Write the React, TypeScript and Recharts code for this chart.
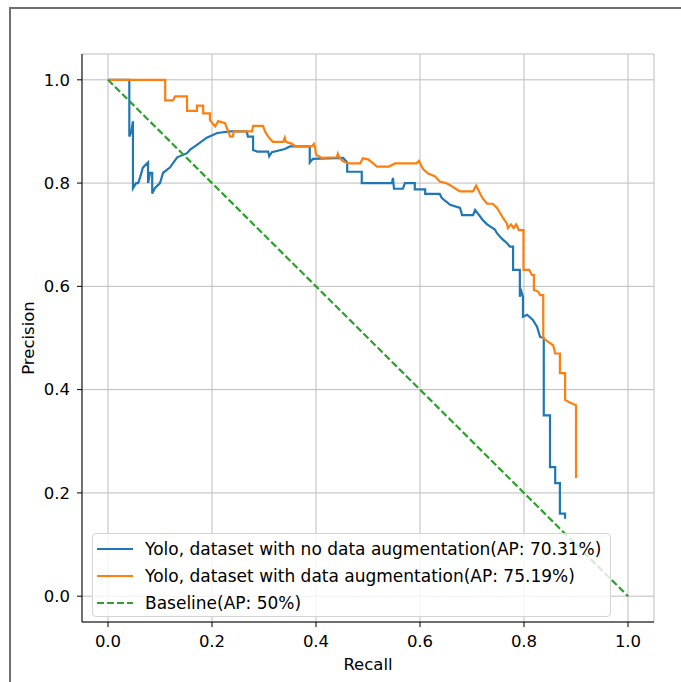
import React from 'react';
import { LineChart, Line, XAxis, YAxis, CartesianGrid, Legend } from 'recharts';

const xTicks = [0, 0.2, 0.4, 0.6, 0.8, 1.0];
const yTicks = [0, 0.2, 0.4, 0.6, 0.8, 1.0];

// Yolo without augmentation
const noAugRecall = [
  0, 0.041, 0.041, 0.045, 0.048, 0.048, 0.054, 0.058, 0.062, 0.067, 0.077, 0.077, 0.081, 0.085, 0.085,
  0.09, 0.1, 0.106, 0.119, 0.133, 0.152, 0.158, 0.171, 0.19, 0.21, 0.235, 0.267, 0.269, 0.279, 0.279,
  0.287, 0.308, 0.31, 0.315, 0.34, 0.35, 0.388, 0.388, 0.394, 0.452, 0.46, 0.46, 0.488, 0.488, 0.51,
  0.546, 0.548, 0.55, 0.567, 0.571, 0.59, 0.59, 0.61, 0.61, 0.638, 0.642, 0.658, 0.677, 0.681, 0.702,
  0.706, 0.721, 0.729, 0.744, 0.748, 0.754, 0.76, 0.767, 0.773, 0.779, 0.779, 0.792, 0.792, 0.795,
  0.798, 0.798, 0.806, 0.817, 0.825, 0.831, 0.838, 0.838, 0.85, 0.85, 0.86, 0.86, 0.869, 0.869, 0.879,
  0.879,
];
const noAugPrecision = [
  1.0, 1.0, 0.89, 0.9, 0.92, 0.79, 0.8, 0.8, 0.812, 0.83, 0.84, 0.8, 0.82, 0.82, 0.78,
  0.79, 0.8, 0.82, 0.83, 0.85, 0.858, 0.865, 0.874, 0.888, 0.897, 0.9, 0.9, 0.89, 0.89, 0.864,
  0.861, 0.861, 0.852, 0.86, 0.866, 0.871, 0.871, 0.84, 0.847, 0.849, 0.84, 0.822, 0.822, 0.8, 0.8,
  0.8, 0.81, 0.789, 0.789, 0.8, 0.8, 0.788, 0.788, 0.779, 0.779, 0.771, 0.758, 0.752, 0.738, 0.738,
  0.748, 0.728, 0.72, 0.71, 0.703, 0.696, 0.69, 0.684, 0.677, 0.677, 0.632, 0.632, 0.58, 0.59,
  0.58, 0.541, 0.545, 0.535, 0.522, 0.502, 0.5, 0.35, 0.35, 0.25, 0.25, 0.219, 0.219, 0.16, 0.16,
  0.15,
];

// Yolo with augmentation
const augRecall = [
  0, 0.11, 0.11, 0.125, 0.129, 0.152, 0.152, 0.171, 0.171, 0.183, 0.183, 0.196, 0.196, 0.206, 0.212,
  0.225, 0.235, 0.24, 0.242, 0.277, 0.279, 0.298, 0.302, 0.308, 0.317, 0.337, 0.34, 0.342, 0.354, 0.36,
  0.392, 0.396, 0.398, 0.4, 0.41, 0.44, 0.442, 0.445, 0.452, 0.458, 0.465, 0.485, 0.49, 0.5, 0.51,
  0.517, 0.54, 0.552, 0.593, 0.598, 0.606, 0.615, 0.629, 0.638, 0.65, 0.658, 0.667, 0.677, 0.702,
  0.708, 0.717, 0.721, 0.729, 0.74, 0.748, 0.754, 0.76, 0.767, 0.769, 0.775, 0.78, 0.785, 0.79, 0.799,
  0.799, 0.81, 0.815, 0.819, 0.819, 0.827, 0.831, 0.837, 0.837, 0.846, 0.856, 0.86, 0.869, 0.869,
  0.879, 0.879, 0.888, 0.9, 0.9,
];
const augPrecision = [
  1.0, 1.0, 0.96, 0.96, 0.968, 0.968, 0.94, 0.94, 0.95, 0.95, 0.935, 0.935, 0.922, 0.91, 0.92,
  0.916, 0.89, 0.89, 0.9, 0.9, 0.911, 0.911, 0.9, 0.89, 0.88, 0.88, 0.888, 0.88, 0.876, 0.871,
  0.871, 0.876, 0.871, 0.855, 0.849, 0.85, 0.857, 0.849, 0.842, 0.84, 0.838, 0.838, 0.848, 0.846, 0.838,
  0.832, 0.832, 0.838, 0.838, 0.843, 0.827, 0.819, 0.813, 0.803, 0.8, 0.796, 0.79, 0.784, 0.784,
  0.795, 0.777, 0.77, 0.76, 0.76, 0.752, 0.742, 0.732, 0.722, 0.713, 0.72, 0.713, 0.72, 0.709, 0.709,
  0.632, 0.632, 0.622, 0.622, 0.593, 0.59, 0.583, 0.583, 0.5, 0.493, 0.486, 0.47, 0.47, 0.432,
  0.432, 0.38, 0.375, 0.37, 0.229,
];

const baselineRecall = [0, 1];
const baselinePrecision = [1, 0];

const seriesNames = [
  'Yolo, dataset with no data augmentation(AP: 70.31%)',
  'Yolo, dataset with data augmentation(AP: 75.19%)',
  'Baseline(AP: 50%)',
];
const seriesColors = ['#1f77b4', '#ff7f0e', '#2ca02c'];
const seriesDash = [undefined, undefined, '7 3'];

const zip = (r: number[], p: number[]) => r.map((v, i) => ({ recall: v, precision: p[i] }));

const noAugData = zip(noAugRecall, noAugPrecision);
const augData = zip(augRecall, augPrecision);
const baselineData = zip(baselineRecall, baselinePrecision);

const FONT = '"DejaVu Sans", sans-serif';
const FS = 16.5;
const LEGEND_FS = 17;
const LW = 2.2;
const tickStyle = { fontSize: FS, fill: '#000', fontFamily: FONT };

const LegendBox = () => (
  <div
    style={{
      boxSizing: 'border-box',
      width: 519,
      height: 84,
      padding: '1px 4px 2px 4px',
      border: '1px solid #d4d4d4',
      borderRadius: 4,
      background: 'rgba(255,255,255,0.8)',
      fontFamily: FONT,
      fontSize: LEGEND_FS,
      color: '#000',
    }}
  >
    {seriesNames.map((name, i) => (
      <div key={name} style={{ height: 27, display: 'flex', alignItems: 'center' }}>
        <svg width={36} height={10} style={{ marginRight: 12, flexShrink: 0 }}>
          <line x1={0} y1={5} x2={36} y2={5} stroke={seriesColors[i]} strokeWidth={LW} strokeDasharray={seriesDash[i]} />
        </svg>
        <span style={{ whiteSpace: 'nowrap' }}>{name}</span>
      </div>
    ))}
  </div>
);

export default function App() {
  return (
    <div style={{ position: 'absolute', left: 0, top: 0, width: 681, height: 682, background: '#fff' }}>
      <div
        style={{
          position: 'absolute',
          left: 9,
          top: 7,
          width: 672,
          height: 675,
          borderLeft: '2px solid #707070',
          borderTop: '2px solid #707070',
          boxSizing: 'border-box',
        }}
      />
      <div style={{ position: 'absolute', left: 0, top: 0 }}>
        <LineChart width={681} height={682} margin={{ top: 54, right: 27, left: 0, bottom: 0 }}>
          <CartesianGrid stroke="#bdbdbd" strokeWidth={1} />
          <XAxis
            dataKey="recall"
            type="number"
            domain={[-0.05, 1.05]}
            ticks={xTicks}
            tickFormatter={(v: number) => v.toFixed(1)}
            allowDataOverflow
            height={60}
            stroke="#000"
            tickSize={5}
            tickMargin={8}
            tick={tickStyle}
            label={{ value: 'Recall', position: 'insideBottom', offset: 12, style: { fontSize: FS, fill: '#000', fontFamily: FONT } }}
          />
          <XAxis xAxisId="top" orientation="top" dataKey="recall" type="number" domain={[-0.05, 1.05]} height={0} tick={false} tickLine={false} stroke="#000" allowDataOverflow />
          <YAxis
            dataKey="precision"
            type="number"
            domain={[-0.05, 1.05]}
            ticks={yTicks}
            tickFormatter={(v: number) => v.toFixed(1)}
            allowDataOverflow
            width={82}
            stroke="#000"
            tickSize={5}
            tickMargin={7}
            tick={tickStyle}
            label={{ value: 'Precision', angle: -90, position: 'insideLeft', offset: 28, style: { textAnchor: 'middle', fontSize: FS, fill: '#000', fontFamily: FONT } }}
          />
          <YAxis yAxisId="right" orientation="right" type="number" domain={[-0.05, 1.05]} width={0} tick={false} tickLine={false} stroke="#000" allowDataOverflow />
          <Line data={noAugData} dataKey="precision" name={seriesNames[0]} type="linear" stroke={seriesColors[0]} strokeWidth={LW} dot={false} isAnimationActive={false} />
          <Line data={augData} dataKey="precision" name={seriesNames[1]} type="linear" stroke={seriesColors[1]} strokeWidth={LW} dot={false} isAnimationActive={false} />
          <Line data={baselineData} dataKey="precision" name={seriesNames[2]} type="linear" stroke={seriesColors[2]} strokeWidth={LW} strokeDasharray={seriesDash[2]} dot={false} isAnimationActive={false} />
          <Legend
            layout="vertical"
            align="center"
            verticalAlign="middle"
            content={() => <LegendBox />}
            wrapperStyle={{ left: 92, top: 533, width: 519, height: 84 }}
          />
        </LineChart>
      </div>
    </div>
  );
}
